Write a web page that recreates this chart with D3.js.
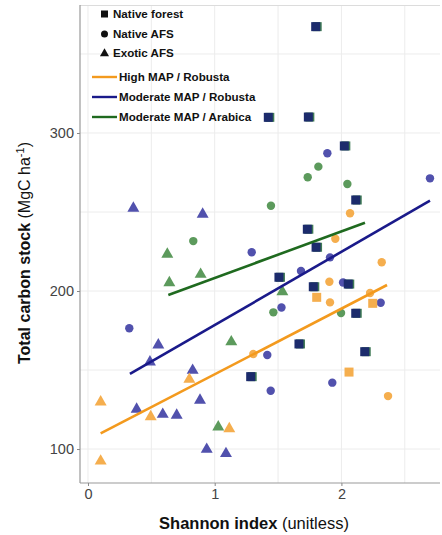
<!DOCTYPE html>
<html>
<head>
<meta charset="utf-8">
<script src="https://cdn.jsdelivr.net/npm/d3@7"></script>
<style>
  body { margin: 0; background: #fff; }
  text { font-family: "Liberation Sans", Arial, sans-serif; }
</style>
</head>
<body>
<div id="main"></div>
<script>
// data: [shannon index, carbon stock, group]
// groups: hr = High MAP / Robusta, mr = Moderate MAP / Robusta, ma = Moderate MAP / Arabica
var nativeForest = [
  [1.797, 367.3, "mr"], [1.423, 309.9, "mr"], [1.739, 310.1, "mr"], [2.023, 291.8, "mr"],
  [2.113, 257.6, "mr"], [1.731, 239.1, "mr"], [1.800, 227.7, "mr"], [1.507, 208.7, "mr"],
  [1.778, 202.7, "mr"], [2.054, 204.4, "mr"], [1.665, 166.5, "mr"], [1.284, 145.8, "mr"],
  [2.113, 185.9, "mr"], [2.184, 161.6, "mr"],
  [1.805, 196.0, "hr"], [2.247, 192.2, "hr"], [2.060, 148.7, "hr"]
];

var nativeAFS = [
  [2.699, 271.3, "mr"], [1.889, 287.2, "mr"], [1.292, 224.5, "mr"], [1.910, 221.3, "mr"],
  [1.681, 212.7, "mr"], [2.013, 205.4, "mr"], [1.527, 189.6, "mr"], [2.310, 192.6, "mr"],
  [1.415, 159.5, "mr"], [1.442, 136.9, "mr"], [1.928, 142.0, "mr"], [0.326, 176.4, "mr"],
  [1.818, 278.7, "ma"], [1.734, 272.0, "ma"], [2.047, 267.7, "ma"], [1.444, 254.0, "ma"],
  [0.831, 231.6, "ma"], [1.463, 186.5, "ma"], [1.997, 186.1, "ma"],
  [2.068, 249.2, "hr"], [1.952, 233.1, "hr"], [2.318, 218.2, "hr"], [1.905, 205.9, "hr"],
  [1.910, 192.8, "hr"], [2.368, 133.5, "hr"], [1.305, 160.1, "hr"], [2.226, 198.7, "hr"]
];

var exoticAFS = [
  [0.358, 253.0, "mr"], [0.905, 249.2, "mr"], [0.555, 166.5, "mr"], [0.489, 155.7, "mr"],
  [0.826, 150.4, "mr"], [0.384, 125.8, "mr"], [0.590, 122.6, "mr"], [0.700, 122.0, "mr"],
  [0.884, 131.5, "mr"], [0.937, 100.4, "mr"], [1.089, 97.7, "mr"],
  [0.626, 223.9, "ma"], [0.642, 205.9, "ma"], [0.889, 211.2, "ma"], [1.131, 168.5, "ma"],
  [1.028, 114.6, "ma"], [1.534, 200.2, "ma"],
  [0.100, 130.4, "hr"], [0.100, 93.0, "hr"], [0.495, 121.1, "hr"], [0.800, 144.7, "hr"],
  [1.115, 113.5, "hr"]
];

// fitted lines (end points)
var fitGroups = ["hr", "mr", "ma"];
var fitX = [[0.100, 2.360], [0.331, 2.699], [0.634, 2.186]];
var fitY = [[109.9, 203.8], [147.5, 257.2], [197.5, 243.2]];

var shapeLabels = ["Native forest", "Native AFS", "Exotic AFS"];
var lineLabels = ["High MAP / Robusta", "Moderate MAP / Robusta", "Moderate MAP / Arabica"];

var xTicks = [0, 1, 2];
var xMinor = [0.5, 1.5, 2.5];
var yTicks = [100, 200, 300];
var yMinor = [150, 250, 350];

// styles
var pointFill = { hr: "#f5ae4e", mr: "#5151ad", ma: "#5c9a5c" };
var lineColor = { hr: "#f39a1e", mr: "#1a1a8a", ma: "#1f6a1f" };

var W = 442, H = 535;
var margin = { left: 80, top: 5, right: 2, bottom: 52 };

var svg = d3.select("#main").append("svg")
  .attr("width", W).attr("height", H);

var x = d3.scaleLinear().domain([-0.063, 2.778]).range([margin.left, W - margin.right]);
var y = d3.scaleLinear().domain([78.5, 381]).range([H - margin.bottom, margin.top]);

// grid
var grid = svg.append("g");
grid.selectAll(".gx").data(xTicks.concat(xMinor)).enter().append("line")
  .attr("x1", function(d) { return x(d); }).attr("x2", function(d) { return x(d); })
  .attr("y1", y.range()[0]).attr("y2", y.range()[1])
  .attr("stroke", "#ececec").attr("stroke-width", 1);
grid.selectAll(".gy").data(yTicks.concat(yMinor)).enter().append("line")
  .attr("y1", function(d) { return y(d); }).attr("y2", function(d) { return y(d); })
  .attr("x1", x.range()[0]).attr("x2", x.range()[1])
  .attr("stroke", "#ececec").attr("stroke-width", 1);

// panel top border
svg.append("line")
  .attr("x1", x.range()[0]).attr("x2", x.range()[1])
  .attr("y1", y.range()[1] + 0.5).attr("y2", y.range()[1] + 0.5)
  .attr("stroke", "#dcdcdc");

// axes
var xAxis = d3.axisBottom(x).tickValues(xTicks).tickSize(3).tickPadding(3).tickFormat(d3.format("d"));
var yAxis = d3.axisLeft(y).tickValues(yTicks).tickSize(3).tickPadding(3);

var gx = svg.append("g").attr("transform", "translate(0," + y.range()[0] + ")").call(xAxis);
var gy = svg.append("g").attr("transform", "translate(" + x.range()[0] + ",0)").call(yAxis);
[gx, gy].forEach(function(g) {
  g.select(".domain").attr("stroke", "#999").attr("stroke-width", 1.2);
  g.selectAll(".tick line").attr("stroke", "#888");
  g.selectAll(".tick text").attr("fill", "#444").style("font-size", "14.5px")
    .style("font-family", "'Liberation Sans', Arial, sans-serif");
});
gx.select(".domain").attr("d", "M" + x.range()[0] + ",0H" + x.range()[1]);
gy.select(".domain").attr("d", "M0," + y.range()[0] + "V" + y.range()[1]);

// fitted lines
var lineData = fitGroups.map(function(g, i) {
  return { g: g, pts: [[fitX[i][0], fitY[i][0]], [fitX[i][1], fitY[i][1]]] };
});
var lineGen = d3.line().x(function(d) { return x(d[0]); }).y(function(d) { return y(d[1]); });

// points
var plot = svg.append("g");

plot.selectAll(".tri").data(exoticAFS).enter().append("path")
  .attr("d", d3.symbol().type(d3.symbolTriangle).size(62))
  .attr("transform", function(d) { return "translate(" + x(d[0]) + "," + (y(d[1]) + 1) + ")"; })
  .attr("fill", function(d) { return pointFill[d[2]]; });

plot.selectAll(".circ").data(nativeAFS).enter().append("circle")
  .attr("cx", function(d) { return x(d[0]); })
  .attr("cy", function(d) { return y(d[1]); })
  .attr("r", 4.2)
  .attr("fill", function(d) { return pointFill[d[2]]; });

var sq = 9;
plot.selectAll(".sqs").data(nativeForest.filter(function(d) { return d[2] === "mr"; })).enter().append("rect")
  .attr("x", function(d) { return x(d[0]) - sq / 2 + 1.5; })
  .attr("y", function(d) { return y(d[1]) - sq / 2; })
  .attr("width", sq).attr("height", sq)
  .attr("fill", "#3f7a55");
plot.selectAll(".sq").data(nativeForest).enter().append("rect")
  .attr("x", function(d) { return x(d[0]) - sq / 2; })
  .attr("y", function(d) { return y(d[1]) - sq / 2; })
  .attr("width", sq).attr("height", sq)
  .attr("fill", function(d) { return d[2] === "hr" ? pointFill.hr : "#1c2b6c"; });

svg.append("g").selectAll("path").data(lineData).enter().append("path")
  .attr("d", function(d) { return lineGen(d.pts); })
  .attr("fill", "none")
  .attr("stroke", function(d) { return lineColor[d.g]; })
  .attr("stroke-width", 2.6);

// legend
var leg = svg.append("g");
var legFont = "11.6px";
var shapeRows = [14, 34, 53];
leg.append("rect").attr("x", 101).attr("y", shapeRows[0] - 3.5).attr("width", 7).attr("height", 7).attr("fill", "#111");
leg.append("circle").attr("cx", 104.5).attr("cy", shapeRows[1]).attr("r", 3.5).attr("fill", "#111");
leg.append("path").attr("d", d3.symbol().type(d3.symbolTriangle).size(36))
  .attr("transform", "translate(104.5," + (shapeRows[2] + 0.5) + ")").attr("fill", "#111");
leg.selectAll(".sl").data(shapeLabels).enter().append("text")
  .attr("x", 113).attr("y", function(d, i) { return shapeRows[i] + 4; })
  .style("font-size", legFont).style("font-weight", "bold").attr("fill", "#111")
  .text(function(d) { return d; });

var lineRows = [77, 97, 117];
leg.selectAll(".ll").data(fitGroups).enter().append("line")
  .attr("x1", 92).attr("x2", 117)
  .attr("y1", function(d, i) { return lineRows[i]; }).attr("y2", function(d, i) { return lineRows[i]; })
  .attr("stroke", function(d) { return lineColor[d]; }).attr("stroke-width", 2.4);
leg.selectAll(".lt").data(lineLabels).enter().append("text")
  .attr("x", 119).attr("y", function(d, i) { return lineRows[i] + 4; })
  .style("font-size", legFont).style("font-weight", "bold").attr("fill", "#111")
  .text(function(d) { return d; });

// axis titles
var xt = svg.append("text").attr("x", 254).attr("y", 529).attr("text-anchor", "middle")
  .style("font-size", "16.5px").attr("fill", "#111");
xt.append("tspan").style("font-weight", "bold").text("Shannon index ");
xt.append("tspan").text("(unitless)");

var yt = svg.append("text")
  .attr("transform", "translate(30,253) rotate(-90)")
  .attr("text-anchor", "middle")
  .style("font-size", "16px").attr("fill", "#111");
yt.append("tspan").style("font-weight", "bold").text("Total carbon stock ");
yt.append("tspan").text("(MgC ha");
yt.append("tspan").attr("dy", -6).style("font-size", "11px").text("-1");
yt.append("tspan").attr("dy", 6).text(")");
</script>
</body>
</html>
